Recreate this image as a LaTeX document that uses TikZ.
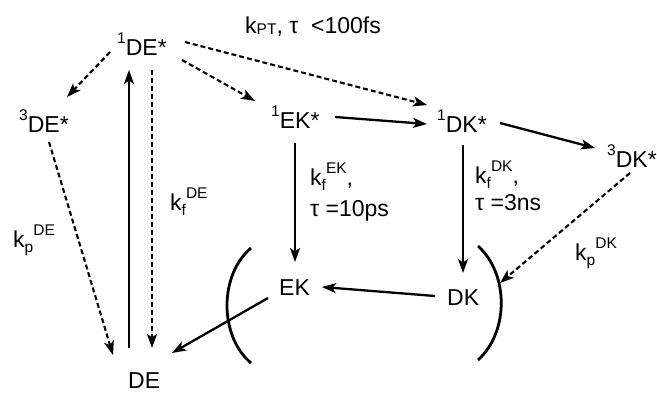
\documentclass[tikz,border=0pt]{standalone}
\usepackage{fontspec}
\setmainfont{Liberation Sans}
\usetikzlibrary{arrows.meta}
\newcommand{\Sup}[1]{\raisebox{12pt}{\fontsize{15.5}{15.5}\selectfont #1}}
\newcommand{\Sub}[1]{\raisebox{-5pt}{\fontsize{15.5}{15.5}\selectfont #1}}
\newcommand{\SubPT}[1]{\raisebox{-1pt}{\fontsize{15.5}{15.5}\selectfont #1}}
\begin{document}
\begin{tikzpicture}[x=1pt,y=-1pt,
  st/.style={anchor=base west, inner sep=0pt, font=\fontsize{23}{26}\selectfont},
  ar/.style={line width=2.3pt, -{Stealth[length=14pt,width=10pt,inset=3.5pt]}},
  dar/.style={ar, line width=2.1pt, dash pattern=on 5pt off 3pt},
  paren/.style={line width=2.8pt}]
\useasboundingbox (0,0) rectangle (657,394);
% state nodes
\node[st] (dE1) at (117,55) {\Sup{1}DE*};
\node[st] (dE3) at (19,132) {\Sup{3}DE*};
\node[st] (eK1) at (271,128) {\Sup{1}EK*};
\node[st] (dK1) at (437,132) {\Sup{1}DK*};
\node[st] (dK3) at (607,167) {\Sup{3}DK*};
\node[st] (eK) at (279,295) {EK};
\node[st] (dK) at (447,305) {DK};
\node[st] (dE) at (128,388) {DE};
% labels
\node[st] (lPT) at (245,33) {k\SubPT{PT}, τ\ \ <100fs};
\node[st] (lfDE) at (170,210) {k\Sub{f}\Sup{DE}};
\node[st] (lpDE) at (13,247) {k\Sub{p}\Sup{DE}};
\node[st] (lfEK) at (310,185) {k\Sub{f}\Sup{EK},};
\node[st] (tEK) at (310,216) {τ =10ps};
\node[st] (lfDK) at (475,183) {k\Sub{f}\Sup{DK},};
\node[st] (tDK) at (475,210) {τ =3ns};
\node[st] (lpDK) at (575,260) {k\Sub{p}\Sup{DK}};
% parentheses
\draw[paren] (251,248) .. controls (219,275) and (219,336) .. (251,363);
\draw[paren] (478,246) .. controls (509,274) and (509,332) .. (478,360);
\coordinate (pR) at (500,283);
% connectors
\draw[dar] ([shift={(-7,-3)}]dE1.base west) -- ([shift={(48,-35)}]dE3.base west);
\draw[dar] ([shift={(65,5)}]dE1.base west) -- ([shift={(-16,-27)}]eK1.base west);
\draw[dar] ([shift={(68,-13)}]dE1.base west) -- ([shift={(-10,-27)}]dK1.base west);
\draw[ar] ([shift={(64,-11)}]eK1.base west) -- ([shift={(-10,-8)}]dK1.base west);
\draw[ar] ([shift={(63,-9)}]dK1.base west) -- ([shift={(-12,-19)}]dK3.base west);
\draw[ar] ([shift={(24,15)}]eK1.base west) -- ([shift={(16,-33)}]eK.base west);
\draw[ar] ([shift={(26,13)}]dK1.base west) -- ([shift={(16,-32)}]dK.base west);
\draw[ar] ([shift={(-12,-9)}]dK.base west) -- ([shift={(43,-8)}]eK.base west);
\draw[ar] ([shift={(-11,3)}]eK.base west) -- ([shift={(44,-35)}]dE.base west);
\draw[ar] ([shift={(1,-40)}]dE.base west) -- ([shift={(12,15)}]dE1.base west);
\draw[dar] ([shift={(35,15)}]dE1.base west) -- ([shift={(24,-40)}]dE.base west);
\draw[dar] ([shift={(30,10)}]dE3.base west) -- ([shift={(-15,-33)}]dE.base west);
\draw[dar] ([shift={(23,6)}]dK3.base west) -- (pR);
\end{tikzpicture}
\end{document}
